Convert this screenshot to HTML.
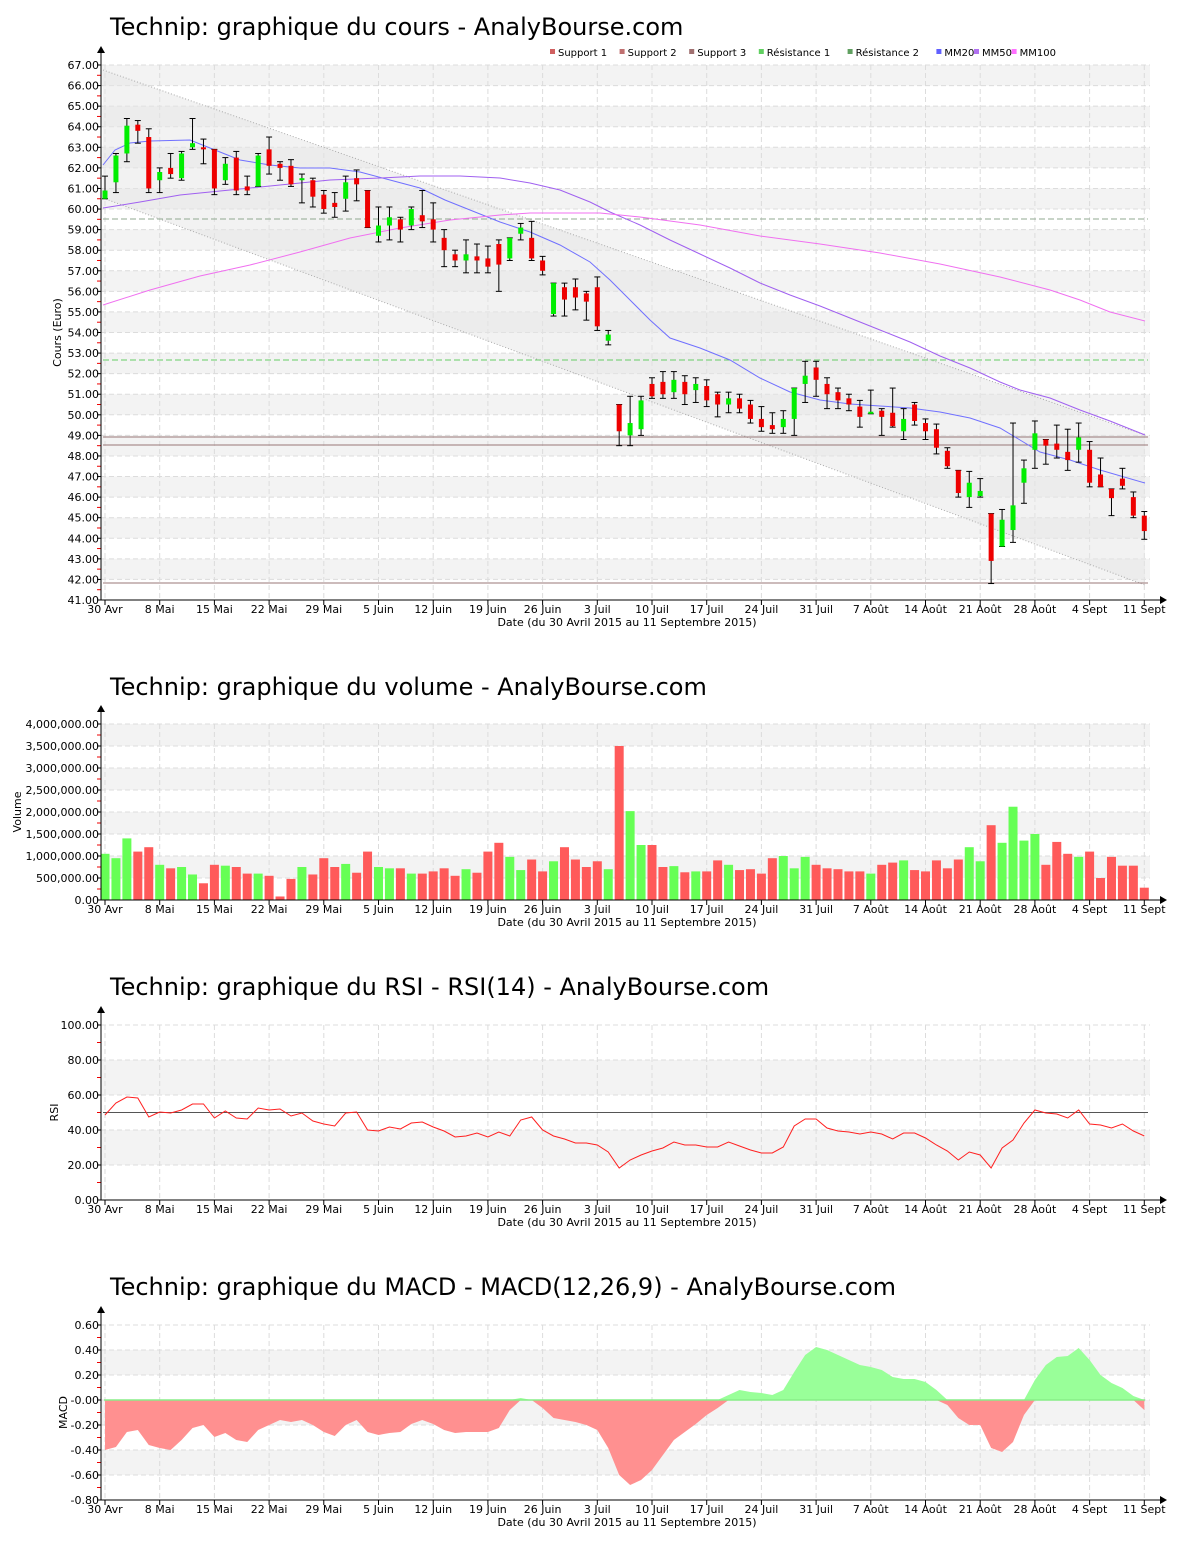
<!DOCTYPE html>
<html><head><meta charset="utf-8">
<style>
html,body{margin:0;padding:0;background:#fff;}
svg{display:block;font-family:"DejaVu Sans","Liberation Sans",sans-serif;}
</style></head>
<body>
<svg id="s" width="1200" height="1550" xmlns="http://www.w3.org/2000/svg"></svg>
<script>
var S=document.getElementById('s');var out=[];
function X(i){return 105+i*10.94;}
var ticks=["30 Avr","8 Mai","15 Mai","22 Mai","29 Mai","5 Juin","12 Juin","19 Juin","26 Juin","3 Juil","10 Juil","17 Juil","24 Juil","31 Juil","7 Août","14 Août","21 Août","28 Août","4 Sept","11 Sept"];
function chart(c){
 var L=101,R=1150,T=c.top,B=c.bot;
 var n=Math.round((c.max-c.min)/c.step);var h=(B-T)/n;
 out.push('<text x="110" y="'+c.ty+'" font-size="24" fill="#000">'+c.title+'</text>');
 for(var k=0;k<n;k++){ if((k%2==0)==c.g0) out.push('<rect x="'+L+'" y="'+(T+k*h)+'" width="'+(R-L)+'" height="'+h+'" fill="#f3f3f3"/>');}
 for(var k=0;k<=n;k++){var y=T+k*h;
  out.push('<line x1="'+L+'" x2="'+R+'" y1="'+y+'" y2="'+y+'" stroke="#dcdcdc" stroke-dasharray="5,3"/>');
  out.push('<text x="99" y="'+(y+4)+'" font-size="11" text-anchor="end">'+c.fmt(c.max-k*c.step)+'</text>');
  out.push('<line x1="97" x2="101" y1="'+y+'" y2="'+y+'" stroke="#000"/>');
  if(k<n) out.push('<line x1="97" x2="101" y1="'+(y+h/2)+'" y2="'+(y+h/2)+'" stroke="#e00"/>');
 }
 for(var t=0;t<20;t++){var x=105+54.7*t;
  out.push('<line x1="'+x+'" x2="'+x+'" y1="'+T+'" y2="'+B+'" stroke="#dcdcdc" stroke-dasharray="5,3"/>');
  out.push('<line x1="'+x+'" x2="'+x+'" y1="'+B+'" y2="'+(B+5)+'" stroke="#000"/>');
  out.push('<text x="'+x+'" y="'+(B+13)+'" font-size="11" text-anchor="middle">'+ticks[t]+'</text>');}
 out.push('<text x="627" y="'+(B+26)+'" font-size="11" text-anchor="middle">Date (du 30 Avril 2015 au 11 Septembre 2015)</text>');
 out.push('<text transform="translate('+c.lx+','+((T+B)/2)+') rotate(-90)" font-size="11" text-anchor="middle">'+c.yl+'</text>');
 c.draw && c.draw(function(v){return T+(c.max-v)/(c.max-c.min)*(B-T);});
 out.push('<line x1="'+L+'" x2="'+L+'" y1="'+(T-12)+'" y2="'+B+'" stroke="#000"/>');
 out.push('<line x1="'+L+'" x2="'+(R+10)+'" y1="'+B+'" y2="'+B+'" stroke="#000"/>');
 out.push('<polygon points="'+(L-4)+','+(T-12)+' '+(L+4)+','+(T-12)+' '+L+','+(T-19)+'" fill="#000"/>');
 out.push('<polygon points="'+(R+10)+','+(B-4)+' '+(R+10)+','+(B+4)+' '+(R+17)+','+B+'" fill="#000"/>');
}
function f2(v){return v.toFixed(2);}
var C=[[60.5,60.9,61.6,60.5],[61.3,62.6,62.7,60.8],[62.7,64.05,64.4,62.3],[64.1,63.8,64.3,63.2],[63.5,61.0,63.9,60.8],[61.4,61.8,62,60.8],[62.0,61.7,62.7,61.5],[61.5,62.7,62.8,61.4],[63.0,63.2,64.4,62.9],[63.0,62.9,63.4,62.2],
[62.9,61.0,62.9,60.7],[61.4,62.2,62.5,61.2],[62.5,60.9,62.8,60.7],[61.1,60.9,61.6,60.7],[61.1,62.6,62.7,61.1],[62.9,62.1,63.5,61.7],[62.2,62.0,62.3,61.4],[62.1,61.2,62.4,61.1],[61.4,61.5,61.7,60.3],[61.4,60.6,61.5,60.1],
[60.7,60.0,60.9,59.8],[60.3,60.1,60.8,59.6],[60.5,61.3,61.6,59.9],[61.5,61.2,61.9,60.4],[60.9,59.1,60.9,59.1],[58.7,59.2,60.1,58.4],[59.2,59.6,60.1,58.5],[59.5,59.0,59.6,58.4],[59.2,60.0,60.1,59.0],[59.7,59.4,60.9,59.1],
[59.5,59.0,60.3,58.4],[58.6,58.0,59,57.2],[57.8,57.5,58.0,57.2],[57.5,57.8,58.5,56.9],[57.7,57.5,58.3,56.9],[57.6,57.2,58.2,56.9],[58.3,57.3,58.5,56.0],[57.6,58.6,58.6,57.5],[58.8,59.1,59.3,58.5],[58.6,57.6,59.4,57.5],
[57.5,57.0,57.7,56.8],[54.9,56.4,56.4,54.8],[56.2,55.6,56.4,54.8],[56.2,55.7,56.6,55.1],[55.9,55.5,56.0,54.6],[56.2,54.3,56.7,54.1],[53.6,53.9,54.1,53.4],[50.5,49.2,50.5,48.5],[49.0,49.6,50.9,48.5],[49.3,50.7,50.9,49.0],
[51.5,50.9,51.8,50.8],[51.6,51.0,52.1,50.8],[51.1,51.7,52.1,50.8],[51.6,51.0,51.9,50.5],[51.2,51.5,51.8,50.6],[51.4,50.7,51.7,50.4],[51.0,50.5,51.1,49.9],[50.5,50.8,51.1,50.1],[50.8,50.3,51.0,50.1],[50.5,49.8,50.7,49.6],
[49.8,49.4,50.4,49.2],[49.5,49.3,50.1,49.1],[49.4,49.8,50.2,49.1],[49.8,51.3,51.3,49.0],[51.5,51.9,52.6,50.6],[52.3,51.7,52.6,50.9],[51.5,51.0,51.8,50.3],[51.1,50.7,51.3,50.3],[50.8,50.5,51.0,50.2],[50.4,49.9,50.7,49.4],
[50.05,50.15,51.2,50.05],[50.2,49.9,50.3,49.0],[50.1,49.45,51.3,49.4],[49.2,49.8,50.3,48.8],[50.5,49.7,50.6,49.5],[49.6,49.2,49.8,48.8],[49.3,48.4,49.55,48.1],[48.25,47.5,48.4,47.4],[47.3,46.2,47.3,46.0],[46.0,46.7,47.25,45.5],
[46.05,46.3,46.9,46.0],[45.2,42.9,45.2,41.8],[43.6,44.9,45.4,43.6],[44.4,45.6,49.6,43.8],[46.7,47.4,47.8,45.7],[48.3,49.1,49.7,47.4],[48.8,48.5,48.8,47.6],[48.6,48.3,49.5,47.9],[48.2,47.8,49.3,47.3],[48.3,48.9,49.6,47.7],
[48.3,46.7,48.7,46.5],[47.1,46.5,47.9,46.5],[46.4,45.95,46.4,45.1],[46.9,46.55,47.4,46.4],[46.0,45.1,46.25,45.0],[45.1,44.35,45.3,43.95]];
function pl(pts,col){return '<polyline points="'+pts.map(function(p){return p.join(',')}).join(' ')+'" fill="none" stroke="'+col+'" stroke-width="1"/>';}
chart({top:65,bot:600,min:41,max:67,step:1,g0:true,ty:35,title:"Technip: graphique du cours - AnalyBourse.com",yl:"Cours (Euro)",lx:61,fmt:f2,draw:function(Y){
 out.push('<polygon points="103,70 1145,435 1145,585 103,198" fill="#e6e6e6" opacity="0.5"/>');
 out.push('<line x1="103" y1="70" x2="1145" y2="435" stroke="#aaa" stroke-dasharray="1,2"/>');
 out.push('<line x1="103" y1="198" x2="1145" y2="585" stroke="#aaa" stroke-dasharray="1,2"/>');
 out.push('<line x1="103" y1="219" x2="1148" y2="219" stroke="#90a890" stroke-dasharray="6,3"/>');
 out.push('<line x1="103" y1="360" x2="1148" y2="360" stroke="#66cc66" stroke-dasharray="6,3"/>');
 [437,445,583].forEach(function(y){out.push('<line x1="103" y1="'+y+'" x2="1148" y2="'+y+'" stroke="#997777"/>');});
 out.push(pl([[103,165],[115,150],[130,143],[150,141],[190,140],[210,148],[240,160],[270,165],[300,168],[330,168],[360,172],[390,180],[420,188],[445,200],[470,210],[500,222],[530,232],[560,245],[590,262],[610,280],[630,300],[650,320],[670,338],[700,348],[730,360],[760,378],[790,392],[820,400],[850,404],[880,406],[910,408],[940,412],[970,418],[1000,428],[1020,440],[1040,452],[1070,460],[1100,470],[1145,483]],"#7070ff"));
 out.push(pl([[103,208],[140,202],[180,195],[230,190],[280,185],[330,180],[380,178],[420,176],[460,176],[500,178],[530,183],[560,190],[590,202],[610,212],[640,225],[670,240],[700,254],[730,268],[760,283],[790,295],[820,306],[850,318],[880,330],[910,342],[940,356],[970,368],[1000,382],[1020,390],[1050,398],[1080,410],[1110,421],[1145,435]],"#a060f0"));
 out.push(pl([[103,305],[150,290],[200,276],[250,265],[300,252],[350,238],[400,228],[450,220],[500,215],[530,213],[600,213],[640,217],[700,225],[760,236],[820,244],[880,253],[940,264],[1000,277],[1050,290],[1080,300],[1110,312],[1145,321]],"#f070f0"));
 C.forEach(function(c,i){var x=X(i),up=c[1]>=c[0];
  out.push('<line x1="'+x+'" x2="'+x+'" y1="'+Y(c[2])+'" y2="'+Y(c[3])+'" stroke="#000"/>');
  out.push('<line x1="'+(x-3)+'" x2="'+(x+3)+'" y1="'+Y(c[2])+'" y2="'+Y(c[2])+'" stroke="#000"/>');
  out.push('<line x1="'+(x-3)+'" x2="'+(x+3)+'" y1="'+Y(c[3])+'" y2="'+Y(c[3])+'" stroke="#000"/>');
  var y1=Y(Math.max(c[0],c[1])),y2=Y(Math.min(c[0],c[1]));
  out.push('<rect x="'+(x-2.5)+'" y="'+y1+'" width="5" height="'+Math.max(2,y2-y1)+'" fill="'+(up?'#00ee00':'#ee0000')+'"/>');});
 var lg=[["Support 1","#d06060"],["Support 2","#c07070"],["Support 3","#a07070"],["Résistance 1","#60d060"],["Résistance 2","#60a060"],["MM20","#6060ff"],["MM50","#b070f0"],["MM100","#ff70ff"]];
 var lx=550;lg.forEach(function(l){out.push('<rect x="'+lx+'" y="49" width="5" height="5" fill="'+l[1]+'"/>');
  out.push('<text x="'+(lx+8)+'" y="56" font-size="10">'+l[0]+'</text>');lx+=8+l[0].length*6.4+4;});
}});
var V=[1.05,.95,1.4,1.1,1.2,.8,.72,.75,.58,.38,.8,.78,.75,.6,.6,.55,.08,.48,.75,.58,.95,.75,.82,.62,1.1,.75,.72,.72,.6,.6,.65,.72,.55,.7,.62,1.1,1.3,.98,.68,.92,.65,.88,1.2,.92,.75,.88,.7,3.5,2.02,1.25,1.25,.75,.77,.63,.65,.65,.9,.8,.68,.7,.6,.95,1.0,.72,.98,.8,.72,.7,.65,.65,.6,.8,.85,.9,.68,.65,.9,.72,.92,1.2,.88,1.7,1.3,2.12,1.35,1.5,.8,1.32,1.05,.98,1.1,.5,.98,.78,.78,.28];
chart({top:724,bot:900,min:0,max:4,step:0.5,g0:true,ty:695,title:"Technip: graphique du volume - AnalyBourse.com",yl:"Volume",lx:21,fmt:function(v){return (Math.round(v*1e6)).toLocaleString('en-US')+'.00';},draw:function(Y){
 V.forEach(function(v,i){var x=X(i),c=C[i];out.push('<rect x="'+(x-4.5)+'" y="'+Y(v)+'" width="9" height="'+(900-Y(v))+'" fill="'+(c[1]>=c[0]?'#66ff55':'#ff5a5a')+'"/>');});
}});
var RS=[1115,1103,1097,1098,1117,1112,1113,1110,1104,1104,1118,1111,1118,1119,1108,1110,1109,1116,1113,1121,1124,1126,1113,1112,1130,1131,1127,1129,1123,1122,1127,1131,1137,1136,1133,1137,1132,1136,1120,1117,1130,1136,1139,1143,1143,1145,1152,1168,1160,1155,1151,1148,1142,1145,1145,1147,1147,1142,1146,1150,1153,1153,1147,1126,1119,1119,1128,1131,1132,1134,1132,1134,1139,1133,1133,1138,1145,1151,1160,1152,1155,1168,1148,1140,1123,1110,1113,1114,1118,1110,1124,1125,1128,1124,1131,1136];
chart({top:1025,bot:1200,min:0,max:100,step:20,g0:false,ty:995,title:"Technip: graphique du RSI - RSI(14) - AnalyBourse.com",yl:"RSI",lx:58,fmt:f2,draw:function(Y){
 out.push('<line x1="103" x2="1148" y1="'+Y(50)+'" y2="'+Y(50)+'" stroke="#555"/>');
 out.push(pl(RS.map(function(y,i){return [X(i).toFixed(1),y];}),"#ff2020"));
}});
var MC=[1450,1447,1432,1430,1445,1448,1450,1440,1428,1425,1437,1433,1440,1442,1430,1425,1420,1422,1420,1425,1432,1436,1425,1420,1432,1435,1433,1432,1424,1420,1424,1430,1433,1432,1432,1432,1428,1410,1398,1400,1408,1418,1420,1422,1425,1430,1448,1475,1485,1480,1470,1455,1440,1432,1424,1415,1408,1395,1390,1392,1393,1395,1390,1372,1355,1347,1350,1355,1360,1365,1367,1370,1377,1379,1379,1382,1390,1405,1418,1425,1425,1448,1452,1442,1415,1380,1365,1357,1356,1348,1360,1375,1383,1388,1396,1410];
chart({top:1325,bot:1500,min:-0.8,max:0.6,step:0.2,g0:false,ty:1295,title:"Technip: graphique du MACD - MACD(12,26,9) - AnalyBourse.com",yl:"MACD",lx:67,fmt:f2,draw:function(Y){
 var pts=MC.map(function(y,i){return [X(i),y];});
 var pn='M'+pts[0][0]+',1400 ',pp=pn;
 pts.forEach(function(p){pn+='L'+p[0]+','+Math.max(1400,p[1])+' ';pp+='L'+p[0]+','+Math.min(1400,p[1])+' ';});
 pn+='L'+pts[pts.length-1][0]+',1400 Z';pp+='L'+pts[pts.length-1][0]+',1400 Z';
 out.push('<path d="'+pn+'" fill="#ff9090"/>');out.push('<path d="'+pp+'" fill="#99ff99"/>');
 out.push('<line x1="104" x2="1145" y1="1400" y2="1400" stroke="#88ee88" stroke-width="1.5"/>');
}});
S.innerHTML=out.join('');
</script>
</body></html>
